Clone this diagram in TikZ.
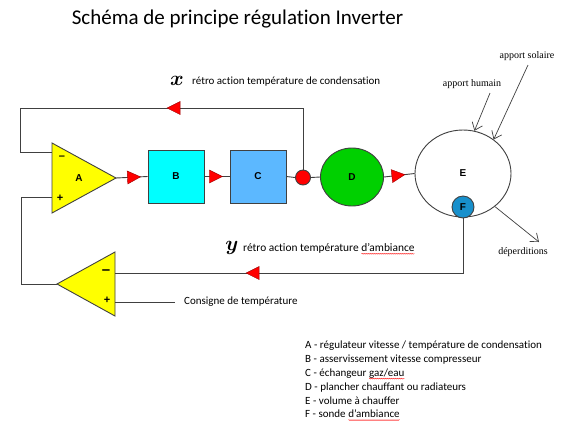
\documentclass[tikz,border=0pt]{standalone}
\usepackage{fontspec}
\setmainfont{Carlito}[Ligatures=NoCommon]
\newfontfamily\serifft{Liberation Serif}
\newfontfamily\arialft{Liberation Sans}
\usetikzlibrary{arrows.meta,decorations.pathmorphing,decorations.markings,shapes.geometric}
\definecolor{linec}{HTML}{404040}
\definecolor{cyanB}{HTML}{00FFFF}
\definecolor{blueC}{HTML}{5CB8FF}
\definecolor{greenD}{HTML}{00D000}
\definecolor{blueF}{HTML}{1890CC}
\definecolor{redm}{HTML}{FF0000}
\definecolor{yelA}{HTML}{FFFF00}
\newcommand\wavyu[1]{\tikz[baseline=(w.base)]{\node[inner sep=0pt,outer sep=0pt](w){#1};\draw[red, line width=0.35pt, decorate, decoration={snake,amplitude=0.5pt,segment length=2pt}] ([yshift=-2.2pt]w.base west) -- ([yshift=-2.2pt]w.base east);}}
\begin{document}
\begin{tikzpicture}[x=1pt,y=-1pt,
  wire/.style={draw=linec, line width=0.9pt},
  block/.style={draw=linec, line width=0.9pt, minimum width=56pt, minimum height=53pt, inner sep=0pt, font=\arialft\bfseries\fontsize{10}{12}\selectfont},
  lettre/.style={inner sep=0pt, font=\arialft\bfseries\fontsize{10}{12}\selectfont},
  signe/.style={inner sep=0pt, font=\arialft\bfseries\fontsize{11}{12}\selectfont},
  lab/.style={inner sep=0pt, anchor=west, font=\fontsize{11}{13}\selectfont},
  slab/.style={inner sep=0pt, font=\serifft\fontsize{10}{12}\selectfont},
  var/.style={inner sep=0pt, font=\boldmath\fontsize{20}{22}\selectfont},
  openarrow/.style={wire, line width=0.7pt, -{Straight Barb[length=7pt,width=11pt,line width=0.7pt]}},
  redmark/.style={postaction={decorate}, decoration={markings, mark=at position #1 with {\draw[fill=redm, draw=red!60!black, line width=0.4pt] (6.5pt,0pt) -- (-6.5pt,6.5pt) -- (-6.5pt,-6.5pt) -- cycle;}}}
]
\useasboundingbox[fill=white] (0,0) rectangle (567,432);

% title
\node[inner sep=0pt, font=\fontsize{21}{24}\selectfont] (title) at (237.5,19) {Schéma de principe régulation Inverter};

% triangle A
\coordinate (Atop) at (52,143);
\coordinate (Abot) at (52,213);
\coordinate (Aout) at (116,178);
\coordinate (Ainm) at (52,152);
\coordinate (Ainp) at (52,197);
\draw[wire, fill=yelA] (Atop) -- (Aout) -- (Abot) -- cycle;
\node[lettre] (Alab) at (79,178) {A};
\node[signe] (Am) at (62,158) {–};
\node[signe] (Ap) at (60,198) {+};

% bottom triangle
\coordinate (Gtop) at (115,252);
\coordinate (Gbot) at (115,316);
\coordinate (Gout) at (57,284);
\coordinate (Ginm) at (115,273);
\coordinate (Ginp) at (115,302);
\draw[wire, fill=yelA] (Gtop) -- (Gout) -- (Gbot) -- cycle;
\node[signe, font=\arialft\bfseries\fontsize{15}{16}\selectfont] (Gm) at (106,272) {–};
\node[signe] (Gp) at (107,300) {+};

% blocks
\node[block, fill=cyanB] (B) at (176,176.5) {B};
\node[block, fill=blueC] (C) at (258,176.5) {C};
\node[circle, draw=linec, line width=0.9pt, fill=redm, minimum size=15pt, inner sep=0pt] (jn) at (303,177.5) {};
\node[ellipse, draw=linec, line width=0.9pt, fill=greenD, minimum width=63pt, minimum height=58pt, inner sep=0pt, font=\arialft\bfseries\fontsize{10}{12}\selectfont] (D) at (352,177) {D};
\node[ellipse, draw=linec, line width=0.9pt, minimum width=96pt, minimum height=87pt, inner sep=0pt, font=\arialft\bfseries\fontsize{10}{12}\selectfont] (E) at (463,173.5) {E};
\node[circle, draw=linec, line width=0.9pt, fill=blueF, minimum size=22pt, inner sep=0pt, font=\arialft\bfseries\fontsize{10}{12}\selectfont] (F) at (463,207) {F};

% forward chain
\draw[wire, redmark=18pt] (Aout) -- (B.west);
\draw[wire, redmark=11.5pt] (B.east) -- (C.west);
\draw[wire] (C.east) -- (jn.west);
\draw[wire] (jn.east) -- (D.west);
\draw[wire, redmark=14.5pt] (D.east) -- (E.west);

% top feedback
\coordinate (tl) at (20,108);
\draw[wire, redmark=191pt] (jn.north) |- (tl) |- (Ainm);
% bottom feedback
\draw[wire, redmark=265pt] (F.south) |- (Ginm);
\coordinate (bl) at (21,284);
\draw[wire] (Gout) -- (bl) |- (Ainp);
% consigne
\coordinate (cons) at (175,302);
\draw[wire] (Ginp) -- (cons);
\node[lab] (constxt) at (184,302) {Consigne de température};

% labels
\node[var] (xv) at (177,81) {$x$};
\node[lab] (xtxt) at (192,82) {rétro action température de condensation};
\node[var] (yv) at (232,248) {$y$};
\node[lab, font=\fontsize{11.4}{13}\selectfont] (ytxt) at (243,249) {rétro action température \wavyu{d’ambiance}};

% external influences
\node[slab] (ah) at (472,84) {apport humain};
\node[slab] (as) at (527,56) {apport solaire};
\node[slab] (dp) at (523,252) {déperditions};
\coordinate (ahs) at (490,93);
\coordinate (ass) at (528,65);
\coordinate (dpe) at (539,242);
\draw[openarrow] (ahs) -- (E.75);
\draw[openarrow] (ass) -- (E.48);
\draw[openarrow] (E.-46) -- (dpe);

% legend
\node[inner sep=0pt, anchor=north west, align=left, font=\fontsize{11}{13.8}\selectfont] (leg) at (305,341) {A - régulateur vitesse / température de condensation\\
B - asservissement vitesse compresseur\\
C - échangeur \wavyu{gaz/eau}\\
D - plancher chauffant ou radiateurs\\
E - volume à chauffer\\
F - sonde \wavyu{d’ambiance}};
\end{tikzpicture}
\end{document}
